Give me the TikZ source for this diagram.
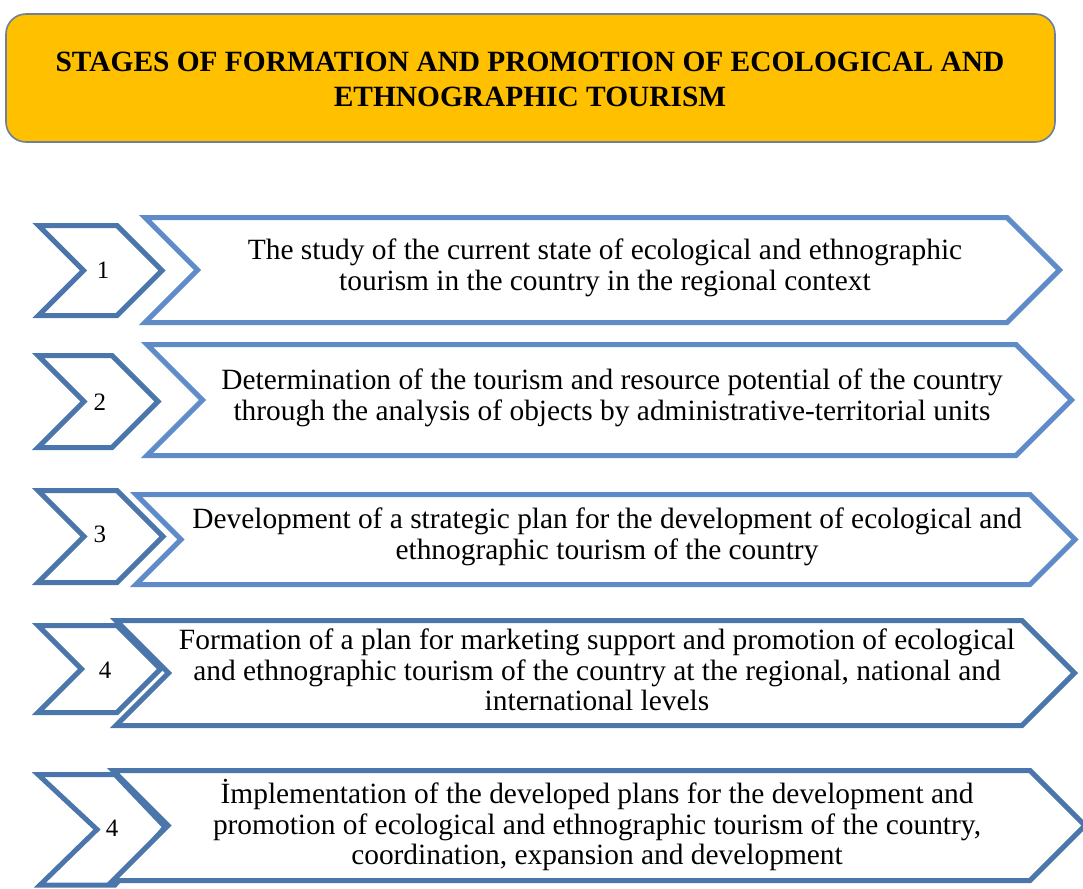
\documentclass[tikz,border=0pt]{standalone}
\usepackage{fontspec}
\setmainfont{Liberation Serif}
\begin{document}
\begin{tikzpicture}[x=0.5pt,y=-0.5pt,
  smallchev/.style={draw=darkchev,line width=2.5pt,fill=white},
  bigchev/.style={draw=lightchev,line width=2.5pt,fill=white},
  bigchevdark/.style={draw=darkchev,line width=2.5pt,fill=white},
  titletext/.style={align=center,inner sep=0pt,font=\fontsize{14.7}{17.5}\selectfont\bfseries},
  stagetext/.style={align=center,inner sep=0pt,font=\fontsize{14.7}{15.3}\selectfont},
  stagenum/.style={inner sep=0pt,font=\fontsize{12.5}{14}\selectfont}]
  \definecolor{header}{HTML}{FFC000}
  \definecolor{headerline}{HTML}{6D7F99}
  \definecolor{darkchev}{HTML}{4A76AC}
  \definecolor{lightchev}{HTML}{5F8CC8}
  \useasboundingbox (0,0) rectangle (1083,889);
  \clip (0,0) rectangle (1083,889);
  % title box
  \draw [draw=headerline,fill=header,line width=0.8pt,rounded corners=10pt] (6,14) rectangle (1055,142);
  \node (title) [titletext] at (530,79.5) {STAGES OF FORMATION AND PROMOTION OF ECOLOGICAL AND\\ETHNOGRAPHIC TOURISM};
  % stage 1
  \draw [smallchev] (38.5,225.5) -- (117,225.5) -- (162,270.5) -- (117,315.5) -- (38.5,315.5) -- (83.5,270.5) -- cycle;
  \draw [bigchev] (145,217.5) -- (1007,217.5) -- (1059.5,270) -- (1007,322.5) -- (145,322.5) -- (197.5,270) -- cycle;
  \node (num1) [stagenum] at (103,270) {1};
  \node (stage1) [stagetext] at (605,268) {The study of the current state of ecological and ethnographic\\tourism in the country in the regional context};
  % stage 2
  \draw [smallchev] (38,355.5) -- (112,355.5) -- (158,401.5) -- (112,447.5) -- (38,447.5) -- (84,401.5) -- cycle;
  \draw [bigchev] (147,344.5) -- (1016,344.5) -- (1071.5,400) -- (1016,455.5) -- (147,455.5) -- (202.5,400) -- cycle;
  \node (num2) [stagenum] at (100,402) {2};
  \node (stage2) [stagetext] at (612,398) {Determination of the tourism and resource potential of the country\\through the analysis of objects by administrative-territorial units};
  % stage 3
  \draw [smallchev] (38,490.5) -- (117,490.5) -- (163,536.5) -- (117,582.5) -- (38,582.5) -- (84,536.5) -- cycle;
  \draw [bigchev] (136,494.5) -- (1030,494.5) -- (1075,539.5) -- (1030,584.5) -- (136,584.5) -- (181,539.5) -- cycle;
  \node (num3) [stagenum] at (100,534) {3};
  \node (stage3) [stagetext] at (607,537) {Development of a strategic plan for the development of ecological and\\ethnographic tourism of the country};
  % stage 4
  \draw [smallchev] (38,625.5) -- (117,625.5) -- (160.5,669) -- (117,712.5) -- (38,712.5) -- (81.5,669) -- cycle;
  \draw [bigchevdark] (116,620.5) -- (1022,620.5) -- (1074.5,673) -- (1022,725.5) -- (116,725.5) -- (168.5,673) -- cycle;
  \node (num4) [stagenum] at (105,670) {4};
  \node (stage4) [stagetext] at (597,670) {Formation of a plan for marketing support and promotion of ecological\\and ethnographic tourism of the country at the regional, national and\\international levels};
  % stage 5
  \draw [smallchev] (38,774.5) -- (115,774.5) -- (165,827) -- (115,885) -- (40,885) -- (97,829.5) -- cycle;
  \draw [bigchevdark] (113,770.5) -- (1030,770.5) -- (1085,825.5) -- (1030,880.5) -- (113,880.5) -- (168,825.5) -- cycle;
  \node (num5) [stagenum] at (112,828) {4};
  \node (stage5) [stagetext] at (597,825) {İmplementation of the developed plans for the development and\\promotion of ecological and ethnographic tourism of the country,\\coordination, expansion and development};
\end{tikzpicture}
\end{document}
